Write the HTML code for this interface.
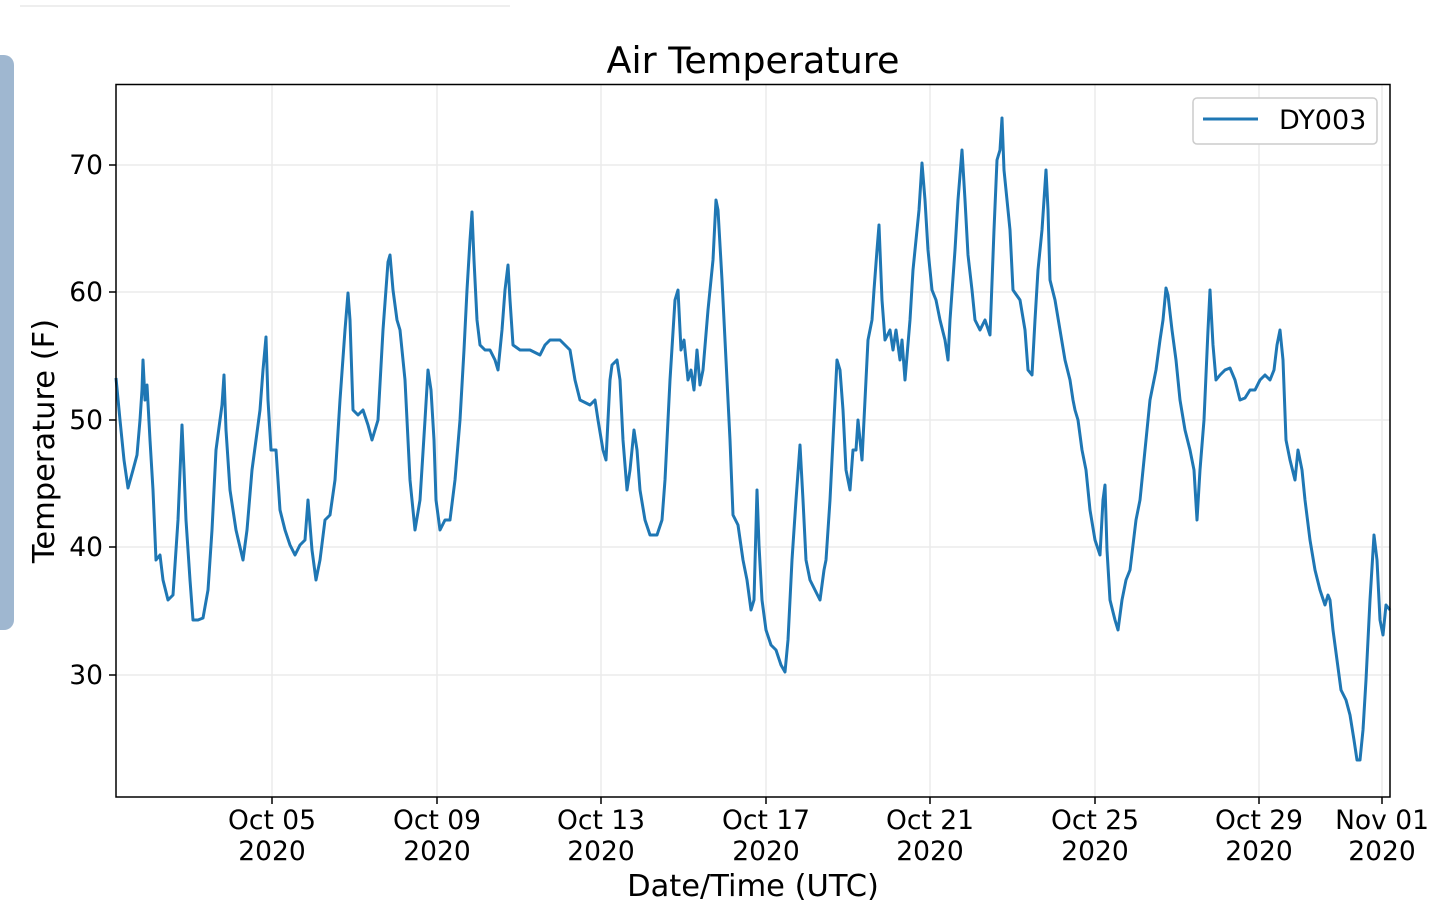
<!DOCTYPE html>
<html><head><meta charset="utf-8"><style>
html,body{margin:0;padding:0;background:#fff;width:1440px;height:919px;overflow:hidden}
text{font-family:"DejaVu Sans","Liberation Sans",sans-serif;fill:#000}
</style></head><body>
<svg width="1440" height="919" viewBox="0 0 1440 919" xmlns="http://www.w3.org/2000/svg">
<line x1="20" y1="6" x2="510" y2="6" stroke="#eee" stroke-width="2"/>
<rect x="-10" y="55" width="24" height="575" rx="10" fill="#9fb7d0"/>
<g stroke="#ebebeb" stroke-width="1.5">
<line x1="116" y1="165" x2="1390" y2="165"/><line x1="116" y1="292" x2="1390" y2="292"/>
<line x1="116" y1="420" x2="1390" y2="420"/><line x1="116" y1="547" x2="1390" y2="547"/>
<line x1="116" y1="675" x2="1390" y2="675"/>
<line x1="272" y1="84" x2="272" y2="797"/><line x1="437" y1="84" x2="437" y2="797"/>
<line x1="601" y1="84" x2="601" y2="797"/><line x1="766" y1="84" x2="766" y2="797"/>
<line x1="930" y1="84" x2="930" y2="797"/><line x1="1095" y1="84" x2="1095" y2="797"/>
<line x1="1259" y1="84" x2="1259" y2="797"/><line x1="1382" y1="84" x2="1382" y2="797"/>
</g>
<polyline fill="none" stroke="#1f77b4" stroke-width="3" stroke-linejoin="round" points="116,378 120,420 124,460 128,488 133,470 137,455 140,420 142,390 143,360 145,400 147,385 150,440 153,490 156,560 160,555 163,580 168,600 173,595 178,520 182,425 184,470 186,520 190,580 193,620 198,620 203,618 208,590 212,530 216,450 222,405 224,375 226,430 230,490 236,530 243,560 247,530 252,470 256,440 260,410 263,370 266,337 268,400 271,450 276,450 280,510 285,530 290,545 295,555 300,545 305,540 308,500 312,550 316,580 320,560 325,520 330,515 335,480 340,400 345,330 348,293 350,320 353,410 358,415 363,410 368,425 372,440 378,420 383,330 388,262 390,255 393,290 397,320 400,330 405,380 410,480 415,530 420,500 425,420 428,370 431,390 434,440 436,500 440,530 445,520 450,520 455,480 460,420 464,350 467,290 470,240 472,212 474,260 477,320 480,345 485,350 490,350 495,360 498,370 502,330 505,290 508,265 510,300 513,345 520,350 530,350 540,355 545,345 550,340 560,340 570,350 575,380 580,400 590,405 595,400 598,420 603,450 606,460 610,380 612,365 617,360 620,380 623,440 627,490 630,470 634,430 637,450 640,490 645,520 650,535 657,535 662,520 665,480 670,380 675,300 678,290 681,350 684,340 688,380 691,370 694,390 697,350 700,385 703,370 708,310 713,260 716,200 718,210 722,280 726,360 730,440 733,515 738,525 743,560 747,580 751,610 754,600 757,490 759,545 762,600 766,630 771,645 776,650 781,665 785,672 788,640 792,560 796,500 800,445 803,500 806,560 810,580 815,590 820,600 824,570 826,560 830,500 834,420 837,360 840,370 843,410 846,470 850,490 853,450 856,450 858,420 862,460 865,400 868,340 872,320 874,290 877,250 879,225 882,300 885,340 890,330 893,350 896,330 900,360 902,340 905,380 910,320 913,270 916,240 919,210 922,163 925,200 928,250 932,290 936,300 940,320 945,340 948,360 950,320 955,250 958,200 962,150 965,200 968,255 972,290 975,320 980,330 985,320 990,335 994,230 997,160 1000,150 1002,118 1004,170 1007,200 1010,230 1013,290 1020,300 1025,330 1028,370 1032,375 1035,320 1038,270 1042,230 1046,170 1048,210 1050,280 1055,300 1060,330 1065,360 1070,380 1073,400 1075,410 1078,420 1082,450 1086,470 1090,510 1095,540 1100,555 1103,500 1105,485 1107,550 1110,600 1115,620 1118,630 1122,600 1126,580 1130,570 1133,545 1136,520 1140,500 1143,470 1146,440 1150,400 1153,385 1156,370 1160,340 1163,320 1166,288 1168,295 1172,330 1176,360 1180,400 1185,430 1190,450 1194,470 1197,520 1200,470 1204,420 1208,330 1210,290 1213,345 1216,380 1220,375 1225,370 1230,368 1235,380 1240,400 1245,398 1250,390 1255,390 1260,380 1265,375 1270,380 1274,370 1277,345 1280,330 1283,360 1286,440 1290,460 1295,480 1298,450 1302,470 1305,500 1310,540 1315,570 1320,590 1325,605 1328,595 1330,600 1333,630 1337,660 1341,690 1346,700 1350,715 1354,740 1357,760 1360,760 1363,730 1366,680 1370,600 1374,535 1377,560 1380,620 1383,635 1386,605 1390,610"/>
<rect x="116" y="84.5" width="1274" height="712.5" fill="none" stroke="#000" stroke-width="1.5"/>
<g stroke="#000" stroke-width="1.5">
<line x1="109" y1="165" x2="116" y2="165"/><line x1="109" y1="292" x2="116" y2="292"/>
<line x1="109" y1="420" x2="116" y2="420"/><line x1="109" y1="547" x2="116" y2="547"/>
<line x1="109" y1="675" x2="116" y2="675"/>
<line x1="272" y1="797" x2="272" y2="804"/><line x1="437" y1="797" x2="437" y2="804"/>
<line x1="601" y1="797" x2="601" y2="804"/><line x1="766" y1="797" x2="766" y2="804"/>
<line x1="930" y1="797" x2="930" y2="804"/><line x1="1095" y1="797" x2="1095" y2="804"/>
<line x1="1259" y1="797" x2="1259" y2="804"/><line x1="1382" y1="797" x2="1382" y2="804"/>
</g>
<g font-size="26.5" text-anchor="end">
<text x="103" y="174">70</text><text x="103" y="301">60</text><text x="103" y="429">50</text>
<text x="103" y="556">40</text><text x="103" y="684">30</text>
</g>
<g font-size="26.5" text-anchor="middle">
<text x="272" y="829">Oct 05</text><text x="272" y="860">2020</text>
<text x="437" y="829">Oct 09</text><text x="437" y="860">2020</text>
<text x="601" y="829">Oct 13</text><text x="601" y="860">2020</text>
<text x="766" y="829">Oct 17</text><text x="766" y="860">2020</text>
<text x="930" y="829">Oct 21</text><text x="930" y="860">2020</text>
<text x="1095" y="829">Oct 25</text><text x="1095" y="860">2020</text>
<text x="1259" y="829">Oct 29</text><text x="1259" y="860">2020</text>
<text x="1382" y="829">Nov 01</text><text x="1382" y="860">2020</text>
</g>
<text x="753" y="896" font-size="30.5" text-anchor="middle">Date/Time (UTC)</text>
<text x="753" y="73" font-size="36.5" text-anchor="middle">Air Temperature</text>
<text transform="translate(54,441) rotate(-90)" font-size="30.5" text-anchor="middle">Temperature (F)</text>
<rect x="1193" y="98" width="184" height="46" rx="4" fill="#fff" stroke="#ccc" stroke-width="1.5"/>
<line x1="1203" y1="119" x2="1258" y2="119" stroke="#1f77b4" stroke-width="3"/>
<text x="1279" y="129" font-size="27">DY003</text>
</svg>
</body></html>
